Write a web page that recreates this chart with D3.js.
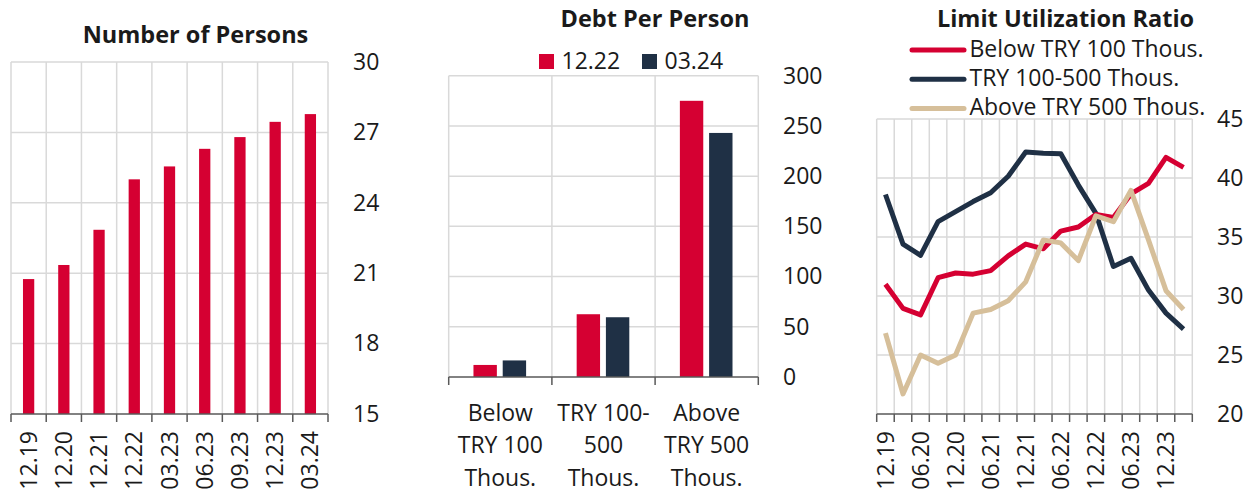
<!DOCTYPE html>
<html>
<head>
<meta charset="utf-8">
<script src="https://cdn.jsdelivr.net/npm/d3@7"></script>
<style>
  body { margin: 0; background: #fff; }
  text { font-family: "Open Sans", sans-serif; fill: #1a1a1a; }
</style>
</head>
<body>
<div class="chart__container"></div>
<script>
/*------------------------------------- DATA -------------------------------------*/

const PERSONS_CATEGORIES = ["12.19", "12.20", "12.21", "12.22", "03.23", "06.23", "09.23", "12.23", "03.24"];
const PERSONS_VALUES = [20.75, 21.35, 22.85, 25.0, 25.55, 26.3, 26.8, 27.45, 27.78];
const PERSONS_TICKS = [15, 18, 21, 24, 27, 30];

const DEBT_CATEGORIES = ["Below|TRY 100|Thous.", "TRY 100-|500|Thous.", "Above|TRY 500|Thous."];
const DEBT_SERIES = ["12.22", "03.24"];
const DEBT_1222 = [12, 62.5, 275];
const DEBT_0324 = [16.5, 59.5, 243];
const DEBT_TICKS = [0, 50, 100, 150, 200, 250, 300];

const LIMIT_QUARTERS = ["12.19", "03.20", "06.20", "09.20", "12.20", "03.21", "06.21", "09.21", "12.21",
    "03.22", "06.22", "09.22", "12.22", "03.23", "06.23", "09.23", "12.23", "03.24"];
const LIMIT_SERIES = ["Below TRY 100 Thous.", "TRY 100-500 Thous.", "Above TRY 500 Thous."];
const LIMIT_BELOW = [31.0, 28.95, 28.4, 31.55, 31.95, 31.85, 32.15, 33.4, 34.4, 34.0, 35.5, 35.85, 36.9, 36.65, 38.65, 39.55, 41.75, 40.9];
const LIMIT_MID = [38.6, 34.4, 33.45, 36.3, 37.15, 38.0, 38.75, 40.15, 42.2, 42.1, 42.05, 39.4, 37.0, 32.5, 33.2, 30.5, 28.55, 27.2];
const LIMIT_ABOVE = [26.85, 21.7, 25.0, 24.3, 25.0, 28.55, 28.85, 29.6, 31.2, 34.75, 34.5, 33.0, 36.8, 36.3, 38.95, 34.75, 30.45, 28.85];
const LIMIT_TICKS = [20, 25, 30, 35, 40, 45];

/*------------------------------------- INIT -------------------------------------*/

const WIDTH = 1258;
const HEIGHT = 500;
const RED = "#d50032";
const NAVY = "#1f3045";
const TAN = "#d6bf9a";
const GRID = "#d9d9d9";
const AXIS = "#595959";
const FONT = 23;
const TITLE_FONT = 23.5;

const SVG = d3.select(".chart__container").append("svg")
    .attr("width", WIDTH).attr("height", HEIGHT);

// light grid, vertical lines on band edges
const drawFrame = (g, edges, y, ticks, x0, x1, y0) => {
    g.selectAll(".hgrid").data(ticks.slice(1)).join("line")
        .attr("x1", x0).attr("x2", x1)
        .attr("y1", d => y(d)).attr("y2", d => y(d))
        .attr("stroke", GRID).attr("stroke-width", 1.5);
    g.selectAll(".vgrid").data(edges).join("line")
        .attr("x1", d => d).attr("x2", d => d)
        .attr("y1", y(ticks[ticks.length - 1])).attr("y2", y0)
        .attr("stroke", GRID).attr("stroke-width", 1.5);
};

const drawBottom = (g, edges, x0, x1, y0) => {
    g.append("line").attr("x1", x0).attr("x2", x1).attr("y1", y0).attr("y2", y0)
        .attr("stroke", AXIS).attr("stroke-width", 1.5);
    g.selectAll(".tick").data(edges).join("line")
        .attr("x1", d => d).attr("x2", d => d).attr("y1", y0).attr("y2", y0 + 8)
        .attr("stroke", AXIS).attr("stroke-width", 1.5);
};

const drawYLabels = (g, y, ticks, xPos) => {
    const axis = d3.axisRight(y).tickValues(ticks).tickSize(0).tickPadding(0);
    const a = g.append("g").attr("transform", `translate(${xPos},0)`).call(axis);
    a.select(".domain").remove();
    a.selectAll("text").attr("font-size", FONT).attr("fill", "#1a1a1a")
        .style("font-family", "'Open Sans', sans-serif");
};

/*------------------------------------- CHART 1 -------------------------------------*/

{
    const g = SVG.append("g");
    const left = 11, right = 328, top = 62, bottom = 414;
    const x = d3.scaleBand().domain(PERSONS_CATEGORIES).range([left, right]);
    const y = d3.scaleLinear().domain([15, 30]).range([bottom, top]);
    const edges = PERSONS_CATEGORIES.map(d => x(d)).concat([right]);

    drawFrame(g, edges, y, PERSONS_TICKS, left, right, bottom);

    const bw = x.bandwidth() * 0.32;
    g.selectAll(".bar").data(PERSONS_VALUES).join("rect")
        .attr("x", (d, i) => x(PERSONS_CATEGORIES[i]) + x.bandwidth() / 2 - bw / 2)
        .attr("width", bw)
        .attr("y", d => y(d))
        .attr("height", d => bottom - y(d))
        .attr("fill", RED);

    drawBottom(g, edges, left, right, bottom);
    drawYLabels(g, y, PERSONS_TICKS, 353);

    g.selectAll(".xlab").data(PERSONS_CATEGORIES).join("text")
        .attr("transform", d => `translate(${x(d) + x.bandwidth() / 2},${bottom + 17}) rotate(-90)`)
        .attr("text-anchor", "end").attr("dy", "0.35em")
        .attr("font-size", FONT).text(d => d);

    g.append("text").attr("x", 195.5).attr("y", 43).attr("text-anchor", "middle")
        .attr("font-size", TITLE_FONT).attr("font-weight", "bold").text("Number of Persons");
}

/*------------------------------------- CHART 2 -------------------------------------*/

{
    const g = SVG.append("g");
    const left = 448.7, right = 758.3, top = 75.7, bottom = 377;
    const x = d3.scaleBand().domain(DEBT_CATEGORIES).range([left, right]);
    const xs = d3.scaleBand().domain(DEBT_SERIES)
        .range([x.bandwidth() * 0.24, x.bandwidth() * 0.75]).paddingInner(0.2);
    const y = d3.scaleLinear().domain([0, 300]).range([bottom, top]);
    const edges = DEBT_CATEGORIES.map(d => x(d)).concat([right]);

    drawFrame(g, edges, y, DEBT_TICKS, left, right, bottom);

    const rows = DEBT_CATEGORIES.map((c, i) => ({ c, vals: [DEBT_1222[i], DEBT_0324[i]] }));
    const colors = d3.scaleOrdinal().domain(DEBT_SERIES).range([RED, NAVY]);

    g.selectAll(".grp").data(rows).join("g")
        .attr("transform", d => `translate(${x(d.c)},0)`)
        .selectAll("rect").data(d => d.vals.map((v, j) => ({ s: DEBT_SERIES[j], v })))
        .join("rect")
        .attr("x", d => xs(d.s)).attr("width", xs.bandwidth())
        .attr("y", d => y(d.v)).attr("height", d => bottom - y(d.v))
        .attr("fill", d => colors(d.s));

    drawBottom(g, edges, left, right, bottom);
    drawYLabels(g, y, DEBT_TICKS, 783);

    const lab = g.selectAll(".xlab").data(DEBT_CATEGORIES).join("text")
        .attr("text-anchor", "middle").attr("font-size", FONT);
    lab.selectAll("tspan").data(d => d.split("|").map(t => ({ t, c: d })))
        .join("tspan")
        .attr("x", d => x(d.c) + x.bandwidth() / 2)
        .attr("y", (d, i) => 420.7 + i * 32.7)
        .text(d => d.t);

    g.append("text").attr("x", 655).attr("y", 27).attr("text-anchor", "middle")
        .attr("font-size", TITLE_FONT).attr("font-weight", "bold").text("Debt Per Person");

    const legX = [539, 642];
    DEBT_SERIES.forEach((s, i) => {
        g.append("rect").attr("x", legX[i]).attr("y", 54).attr("width", 15).attr("height", 15)
            .attr("fill", colors(s));
        g.append("text").attr("x", legX[i] + 22.5).attr("y", 68.5)
            .attr("font-size", FONT).text(s);
    });
}

/*------------------------------------- CHART 3 -------------------------------------*/

{
    const g = SVG.append("g");
    const left = 876.7, right = 1192.3, top = 119, bottom = 414;
    const x = d3.scaleBand().domain(LIMIT_QUARTERS).range([left, right]);
    const y = d3.scaleLinear().domain([20, 45]).range([bottom, top]);
    const edges = LIMIT_QUARTERS.map(d => x(d)).concat([right]);

    drawFrame(g, edges, y, LIMIT_TICKS, left, right, bottom);

    const series = [
        { name: LIMIT_SERIES[0], values: LIMIT_BELOW, color: RED },
        { name: LIMIT_SERIES[1], values: LIMIT_MID, color: NAVY },
        { name: LIMIT_SERIES[2], values: LIMIT_ABOVE, color: TAN }
    ];

    const line = d3.line()
        .x((d, i) => x(LIMIT_QUARTERS[i]) + x.bandwidth() / 2)
        .y(d => y(d));

    // navy first, then red, tan on top
    [series[1], series[0], series[2]].forEach(s => {
        g.append("path").datum(s.values).attr("d", line)
            .attr("fill", "none").attr("stroke", s.color).attr("stroke-width", 5)
            .attr("stroke-linejoin", "round");
    });

    drawBottom(g, edges, left, right, bottom);
    drawYLabels(g, y, LIMIT_TICKS, 1217);

    g.selectAll(".xlab").data(LIMIT_QUARTERS.filter((d, i) => i % 2 === 0)).join("text")
        .attr("transform", d => `translate(${x(d) + x.bandwidth() / 2},${bottom + 17}) rotate(-90)`)
        .attr("text-anchor", "end").attr("dy", "0.35em")
        .attr("font-size", FONT).text(d => d);

    g.append("text").attr("x", 1065.5).attr("y", 27).attr("text-anchor", "middle")
        .attr("font-size", TITLE_FONT).attr("font-weight", "bold").text("Limit Utilization Ratio");

    series.forEach((s, i) => {
        const ly = 50 + i * 29.2;
        g.append("line").attr("x1", 912).attr("x2", 964).attr("y1", ly).attr("y2", ly)
            .attr("stroke", s.color).attr("stroke-width", 5).attr("stroke-linecap", "round");
        g.append("text").attr("x", 969.5).attr("y", ly + 7).attr("font-size", FONT).text(s.name);
    });
}
</script>
</body>
</html>
